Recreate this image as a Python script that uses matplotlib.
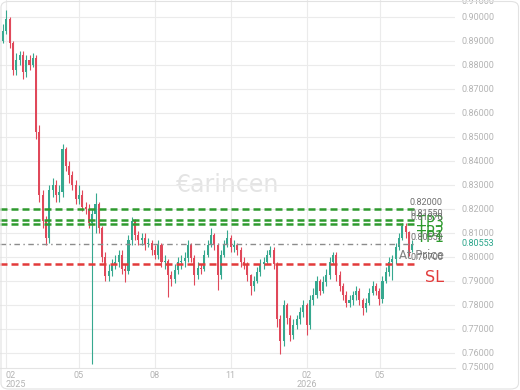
import matplotlib
matplotlib.use('Agg')
import matplotlib.pyplot as plt
import matplotlib.dates as mdates
import matplotlib.transforms as mtrans
from matplotlib.patches import FancyBboxPatch
import pandas as pd

# ---------------- data ----------------
start_date = '2025-01-29'
candle_step = '4D'
first_open = 0.890

closes = [0.894, 0.899, 0.889, 0.878, 0.882, 0.884, 0.877, 0.882, 0.880, 0.883,
          0.852, 0.826, 0.815, 0.808, 0.828, 0.830, 0.826, 0.827, 0.845, 0.838,
          0.834, 0.830, 0.824, 0.826, 0.821, 0.820, 0.814, 0.818, 0.822, 0.812,
          0.800, 0.792, 0.794, 0.797, 0.798, 0.801, 0.795, 0.794, 0.807, 0.815,
          0.809, 0.807, 0.808, 0.8055, 0.806, 0.803, 0.801, 0.805, 0.798, 0.7985,
          0.7925, 0.791, 0.7946, 0.798, 0.7985, 0.7996, 0.805, 0.7996, 0.7925, 0.7954,
          0.795, 0.801, 0.805, 0.809, 0.805, 0.7925, 0.801, 0.805, 0.808, 0.804,
          0.805, 0.803, 0.798, 0.797, 0.7925, 0.788, 0.790, 0.7937, 0.797, 0.798,
          0.801, 0.803, 0.797, 0.774, 0.765, 0.780, 0.7746, 0.7675, 0.7717, 0.774,
          0.777, 0.780, 0.7717, 0.782, 0.784, 0.790, 0.786, 0.7896, 0.7925, 0.798,
          0.801, 0.7925, 0.788, 0.784, 0.781, 0.782, 0.784, 0.786, 0.782, 0.7787,
          0.781, 0.785, 0.788, 0.786, 0.7825, 0.790, 0.7937, 0.798, 0.799, 0.804,
          0.808, 0.813, 0.8105, 0.803, 0.80553]

highs = [0.897, 0.903, 0.900, 0.890, 0.885, 0.886, 0.886, 0.884, 0.884, 0.885,
         0.884, 0.855, 0.828, 0.817, 0.830, 0.833, 0.832, 0.830, 0.847, 0.846,
         0.840, 0.836, 0.832, 0.830, 0.828, 0.823, 0.822, 0.820, 0.8267, 0.823,
         0.813, 0.802, 0.797, 0.799, 0.801, 0.803, 0.803, 0.797, 0.809, 0.8167,
         0.816, 0.811, 0.810, 0.810, 0.808, 0.807, 0.805, 0.807, 0.806, 0.801,
         0.799, 0.794, 0.797, 0.800, 0.801, 0.802, 0.8071, 0.806, 0.801, 0.798,
         0.797, 0.803, 0.807, 0.8121, 0.810, 0.806, 0.803, 0.807, 0.8113, 0.809,
         0.807, 0.806, 0.804, 0.800, 0.798, 0.793, 0.792, 0.796, 0.799, 0.800,
         0.803, 0.8046, 0.804, 0.798, 0.776, 0.782, 0.781, 0.776, 0.774, 0.776,
         0.779, 0.782, 0.781, 0.784, 0.787, 0.792, 0.791, 0.792, 0.795, 0.800,
         0.802, 0.802, 0.794, 0.789, 0.786, 0.784, 0.786, 0.788, 0.787, 0.783,
         0.783, 0.787, 0.790, 0.789, 0.787, 0.792, 0.796, 0.800, 0.801, 0.806,
         0.810, 0.8142, 0.814, 0.811, 0.807]

lows = [0.889, 0.893, 0.887, 0.876, 0.876, 0.880, 0.874, 0.875, 0.878, 0.879,
        0.849, 0.823, 0.812, 0.805, 0.806, 0.825, 0.823, 0.823, 0.825, 0.836,
        0.831, 0.828, 0.822, 0.822, 0.819, 0.818, 0.812, 0.7555, 0.810, 0.810,
        0.798, 0.790, 0.790, 0.792, 0.795, 0.796, 0.793, 0.7895, 0.793, 0.805,
        0.807, 0.805, 0.805, 0.803, 0.804, 0.801, 0.799, 0.799, 0.796, 0.795,
        0.7833, 0.788, 0.789, 0.793, 0.795, 0.796, 0.798, 0.798, 0.7883, 0.791,
        0.793, 0.794, 0.800, 0.804, 0.803, 0.7863, 0.791, 0.800, 0.804, 0.802,
        0.802, 0.801, 0.796, 0.795, 0.790, 0.7842, 0.786, 0.789, 0.792, 0.795,
        0.797, 0.800, 0.795, 0.771, 0.7595, 0.763, 0.772, 0.765, 0.766, 0.770,
        0.772, 0.775, 0.7675, 0.770, 0.780, 0.783, 0.784, 0.785, 0.788, 0.791,
        0.797, 0.790, 0.786, 0.782, 0.779, 0.779, 0.780, 0.782, 0.780, 0.7758,
        0.777, 0.780, 0.784, 0.784, 0.780, 0.781, 0.789, 0.792, 0.7904, 0.797,
        0.803, 0.807, 0.808, 0.8005, 0.802]

level_values = [0.8200, 0.8155, 0.8137, 0.80553, 0.7970]
level_names = ['TP3', 'TP2', 'TP1', 'At Price', 'SL']
level_value_labels = ['0.82000', '0.81550', '0.81370', '0.80553', '0.79700']
current_price = 0.80553
current_price_label = '0.80553'

y_ticks = [0.76, 0.77, 0.78, 0.79, 0.80, 0.81, 0.82, 0.83, 0.84, 0.85,
           0.86, 0.87, 0.88, 0.89, 0.90]
y_edge_labels = ['0.91000', '0.75000']
month_ticks = ['2025-02-01', '2025-05-01', '2025-08-01', '2025-11-01',
               '2026-02-01', '2026-05-01']
month_labels = ['02\n2025', '05', '08', '11', '02\n2026', '05']
watermark = '€arincen'

# ---------------- styles ----------------
UP = '#36a88f'
DOWN = '#e0485a'
GREEN = '#2e9a2e'
RED = '#e23b3b'
GRAY_LINE = '#8c8c8c'
AXIS_TXT = '#b4b4b4'
GRID = '#ebebeb'
FONT = 'Roboto'

W, H = 520, 390
fig = plt.figure(figsize=(W / 100, H / 100), dpi=100)
ax = fig.add_axes([0.0, 22 / H, 455 / W, 368 / H])

dates = pd.date_range(start_date, periods=len(closes), freq=candle_step)
x = mdates.date2num(dates.to_pydatetime())
opens = [first_open] + closes[:-1]
cols = [UP if c >= o else DOWN for o, c in zip(opens, closes)]
bottoms = [min(o, c) for o, c in zip(opens, closes)]
heights = [max(abs(c - o), 0.0004) for o, c in zip(opens, closes)]

ax.vlines(x, lows, highs, colors=cols, linewidth=0.8, zorder=3)
ax.bar(x, heights, bottom=bottoms, width=2.5, color=cols, linewidth=0, zorder=3)

x_left = mdates.date2num(pd.Timestamp('2025-02-01')) - 6.8
ax.set_xlim(x_left, x_left + 455 / 0.8247)
ax.set_ylim(0.75375, 0.90708)

# grid / axes
ax.set_yticks(y_ticks)
ax.set_yticklabels([f'{v:.5f}' for v in y_ticks])
ax.yaxis.tick_right()
ax.tick_params(axis='y', length=0, pad=5, labelsize=6.5, labelcolor=AXIS_TXT)
mt = [mdates.date2num(pd.Timestamp(d)) for d in month_ticks]
ax.set_xticks(mt)
ax.set_xticklabels(month_labels)
ax.tick_params(axis='x', length=0, pad=2.5, labelsize=6.5, labelcolor=AXIS_TXT)
for lab in ax.get_yticklabels() + ax.get_xticklabels():
    lab.set_fontfamily(FONT)
    lab.set_linespacing(0.95)
first = ax.get_xticklabels()[0]
first.set_horizontalalignment('left')
ax.grid(True, color=GRID, linewidth=0.8, zorder=0)
for s in ['top', 'right', 'left']:
    ax.spines[s].set_visible(False)
ax.spines['bottom'].set_color('#e4e4e4')
ax.spines['bottom'].set_linewidth(0.8)

# clamped edge labels
ax.text(1 + 5 / 455 * 1.39, 1 - 1.5 / 368, y_edge_labels[0], transform=ax.transAxes,
        ha='left', va='center', fontsize=6.5, color=AXIS_TXT, family=FONT, clip_on=False)
ax.text(1 + 5 / 455 * 1.39, 1 / 368, y_edge_labels[1], transform=ax.transAxes,
        ha='left', va='center', fontsize=6.5, color=AXIS_TXT, family=FONT, clip_on=False)
# current price label
ax.text(1 + 5 / 455 * 1.39, current_price, current_price_label,
        transform=mtrans.blended_transform_factory(ax.transAxes, ax.transData),
        ha='left', va='center', fontsize=6.5, color='#2aa58a', family=FONT, clip_on=False)

# watermark
ax.text(228 / 455, 1 - 185 / 368, watermark, transform=ax.transAxes, ha='center',
        va='center', fontsize=17, color='#e4e4e4', zorder=1)

# levels
xmax = 415 / 455
styles = [(GREEN, (0, (2.8, 1.6)), 1.8), (GREEN, (0, (2.8, 1.6)), 1.8),
          (GREEN, (0, (2.8, 1.6)), 1.8), (GRAY_LINE, (0, (4, 2.5, 1, 2.5)), 1.0),
          (RED, (0, (2.8, 1.6)), 1.8)]
name_colors = [GREEN, GREEN, GREEN, '#808080', RED]
name_sizes = [10.5, 10.5, 10.5, 8.5, 11.5]
btr = mtrans.blended_transform_factory(ax.transAxes, ax.transData)
for v, name, vl, (c, ls, lw), nc, ns in zip(level_values, level_names, level_value_labels,
                                            styles, name_colors, name_sizes):
    ax.axhline(v, xmin=0, xmax=xmax, color=c, linestyle=ls, linewidth=lw, zorder=4)
    ax.annotate(vl, (443 / 455, v), xycoords=btr, xytext=(0, 1.5), textcoords='offset points',
                ha='right', va='bottom', fontsize=6.5, color='#6e6e6e', family=FONT, zorder=5)
    ax.annotate(name, (444 / 455, v), xycoords=btr, xytext=(0, -4), textcoords='offset points',
                ha='right', va='top', fontsize=ns, color=nc, zorder=5)

# rounded outer border
fig.patches.append(FancyBboxPatch((1 / W, 1 / H), 1 - 2.5 / W, 1 - 2.5 / H,
                                  boxstyle='round,pad=0,rounding_size=0.015',
                                  transform=fig.transFigure, fill=False,
                                  edgecolor='#e2e2e2', linewidth=0.8))

fig.savefig('out.png', dpi=100)
